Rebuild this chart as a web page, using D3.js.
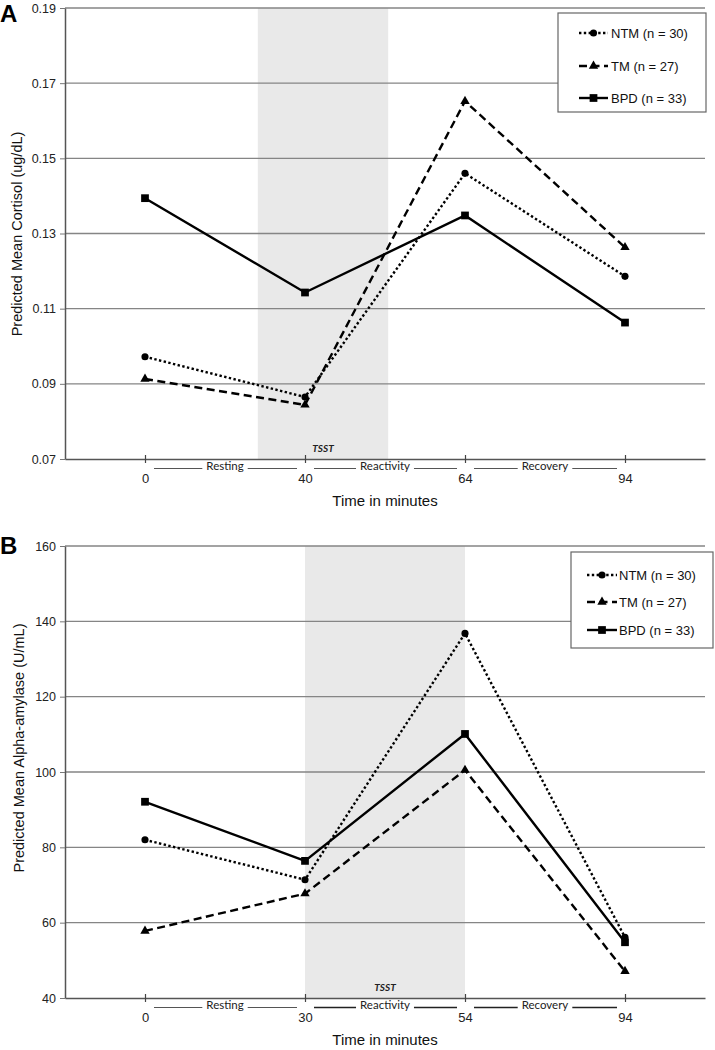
<!DOCTYPE html>
<html><head><meta charset="utf-8">
<script src="https://cdn.jsdelivr.net/npm/d3@7"></script>
<style>body{margin:0;background:#fff} svg{display:block}</style>
</head><body>
<svg id="c" width="715" height="1050"></svg>
<script>
// ---------- data ----------
const seriesNames = ["NTM (n = 30)", "TM (n = 27)", "BPD (n = 33)"];
const phases = ["Resting", "Reactivity", "Recovery"];

const cortisolTimes = ["0", "40", "64", "94"];
const cortisolNTM = [0.0972, 0.0865, 0.1460, 0.1186];
const cortisolTM  = [0.0913, 0.0844, 0.1652, 0.1263];
const cortisolBPD = [0.1394, 0.1143, 0.1348, 0.1063];
const cortisolTicks = [0.07, 0.09, 0.11, 0.13, 0.15, 0.17, 0.19];
const cortisolTSST = [0.705, 1.52];   // in time-point index units

const amylaseTimes = ["0", "30", "54", "94"];
const amylaseNTM = [82.0, 71.4, 136.8, 56.1];
const amylaseTM  = [57.8, 67.7, 100.5, 47.1];
const amylaseBPD = [92.1, 76.4, 110.1, 54.8];
const amylaseTicks = [40, 60, 80, 100, 120, 140, 160];
const amylaseTSST = [1.0, 2.0];

// ---------- drawing ----------
const svg = d3.select("#c");
const FONT = "'Liberation Sans', Arial, sans-serif";
const styles = [
  {dash: "2.4,2.4", symbol: d3.symbolCircle, size: 40},
  {dash: "8,4.5", symbol: d3.symbolTriangle, size: 38},
  {dash: null, symbol: d3.symbolSquare, size: 60}
];

function panel(cfg) {
  const g = svg.append("g");
  const x = d3.scalePoint().domain(cfg.times).range([65, 705]).padding(0.5);
  const n = cfg.times.length;
  const xi = d3.scaleLinear().domain([0, n - 1]).range([x(cfg.times[0]), x(cfg.times[n - 1])]);
  const y = d3.scaleLinear().domain(d3.extent(cfg.ticks)).range([cfg.bottom, cfg.top]);

  // TSST shading
  g.append("rect")
    .attr("x", xi(cfg.tsst[0])).attr("y", cfg.top)
    .attr("width", xi(cfg.tsst[1]) - xi(cfg.tsst[0]))
    .attr("height", cfg.bottom - cfg.top)
    .attr("fill", "#e9e9e9");
  g.append("text")
    .attr("x", (xi(cfg.tsst[0]) + xi(cfg.tsst[1])) / 2)
    .attr("y", cfg.bottom - 7)
    .attr("text-anchor", "middle")
    .attr("font-family", "Lato, 'Open Sans', sans-serif")
    .attr("font-size", 10).attr("font-weight", "bold").attr("font-style", "italic")
    .attr("fill", "#222")
    .text("TSST");

  // gridlines
  g.selectAll(".grid").data(cfg.ticks.slice(1)).join("line")
    .attr("x1", 65).attr("x2", 705)
    .attr("y1", d => y(d)).attr("y2", d => y(d))
    .attr("stroke", "#858585").attr("stroke-width", 1.4);

  // y axis
  const ya = g.append("g").attr("transform", "translate(65,0)")
    .call(d3.axisLeft(y).tickValues(cfg.ticks).tickSizeInner(5).tickSizeOuter(0)
      .tickPadding(4).tickFormat(cfg.fmt));
  ya.select(".domain").attr("stroke", "#555").attr("stroke-width", 1.5);
  ya.selectAll(".tick line").attr("stroke", "#777");
  ya.selectAll("text").attr("font-family", FONT).attr("font-size", 12.5).attr("fill", "#222");

  // x axis
  const xa = g.append("g").attr("transform", `translate(0,${cfg.bottom})`)
    .call(d3.axisBottom(x).tickSizeInner(4).tickSizeOuter(0).tickPadding(11));
  xa.select(".domain").attr("stroke", "#555").attr("stroke-width", 1.5);
  xa.selectAll(".tick line").attr("y1", -4).attr("stroke", "#444").attr("stroke-width", 1.2);
  xa.selectAll("text").attr("font-family", FONT).attr("font-size", 13).attr("fill", "#222");

  // phase labels
  phases.forEach((p, i) => {
    const a = x(cfg.times[i]), b = x(cfg.times[i + 1]), m = (a + b) / 2;
    const t = g.append("text").attr("x", m).attr("y", cfg.bottom + 11)
      .attr("text-anchor", "middle")
      .attr("font-family", "Lato, 'Open Sans', sans-serif").attr("font-size", 11.5)
      .attr("fill", "#222").text(p);
    const hw = t.node().getComputedTextLength() / 2 + 4;
    const heavy = cfg.heavyPhases && i > 0;
    [[a + 9, m - hw], [m + hw, b - 8]].forEach(([x1, x2]) => {
      g.append("line").attr("x1", x1).attr("x2", x2)
        .attr("y1", cfg.bottom + 9.5).attr("y2", cfg.bottom + 9.5)
        .attr("stroke", heavy ? "#222" : "#555").attr("stroke-width", heavy ? 1.5 : 1);
    });
  });

  // axis titles
  g.append("text").attr("x", 385).attr("y", cfg.bottom + 47)
    .attr("text-anchor", "middle").attr("font-family", FONT).attr("font-size", 15)
    .attr("fill", "#111").text("Time in minutes");
  g.append("text")
    .attr("transform", `translate(${cfg.ytx},${cfg.yty}) rotate(-90)`)
    .attr("text-anchor", "middle").attr("dominant-baseline", "central")
    .attr("font-family", FONT).attr("font-size", 14.5).attr("fill", "#111")
    .text(cfg.ytitle);

  // panel letter
  g.append("text").attr("x", 0).attr("y", cfg.letterY)
    .attr("font-family", FONT).attr("font-size", 24).attr("font-weight", "bold")
    .attr("fill", "#000").text(cfg.letter);

  // series
  const line = d3.line().x((d, i) => x(cfg.times[i])).y(d => y(d));
  cfg.series.forEach((vals, k) => {
    const st = styles[k];
    g.append("path").attr("d", line(vals)).attr("fill", "none")
      .attr("stroke", "#000").attr("stroke-width", 2.4)
      .attr("stroke-dasharray", st.dash);
    g.selectAll(null).data(vals).join("path")
      .attr("transform", (d, i) => `translate(${x(cfg.times[i])},${y(d)})`)
      .attr("d", d3.symbol(st.symbol, st.size)).attr("fill", "#000");
  });

  // legend
  const L = cfg.legend;
  g.append("rect").attr("x", L.x).attr("y", L.y).attr("width", L.w).attr("height", L.h)
    .attr("fill", "#fff").attr("stroke", "#666").attr("stroke-width", 1.2);
  seriesNames.forEach((name, k) => {
    const st = styles[k], ry = L.rows[k];
    g.append("line").attr("x1", L.lx0).attr("x2", L.lx1).attr("y1", ry).attr("y2", ry)
      .attr("stroke", "#000").attr("stroke-width", 2.4).attr("stroke-dasharray", st.dash);
    g.append("path").attr("transform", `translate(${(L.lx0 + L.lx1) / 2},${ry})`)
      .attr("d", d3.symbol(st.symbol, st.size)).attr("fill", "#000");
    g.append("text").attr("x", L.tx).attr("y", ry + 4.5)
      .attr("font-family", FONT).attr("font-size", 13).attr("fill", "#111").text(name);
  });
}

panel({
  times: cortisolTimes, ticks: cortisolTicks, tsst: cortisolTSST,
  series: [cortisolNTM, cortisolTM, cortisolBPD],
  top: 8, bottom: 459, fmt: d3.format(".2f"),
  ytitle: "Predicted Mean Cortisol (ug/dL)", ytx: 17, yty: 234,
  letter: "A", letterY: 22,
  legend: {x: 558, y: 13, w: 148, h: 99, rows: [33, 66, 98], lx0: 579, lx1: 608, tx: 611}
});

panel({
  times: amylaseTimes, ticks: amylaseTicks, tsst: amylaseTSST,
  series: [amylaseNTM, amylaseTM, amylaseBPD],
  top: 546, bottom: 998, fmt: d3.format("d"),
  ytitle: "Predicted Mean Alpha-amylase (U/mL)", ytx: 19, yty: 748,
  letter: "B", letterY: 554, heavyPhases: true,
  legend: {x: 571, y: 552, w: 142, h: 96, rows: [575, 602, 630], lx0: 587, lx1: 617, tx: 619}
});
</script>
</body></html>
